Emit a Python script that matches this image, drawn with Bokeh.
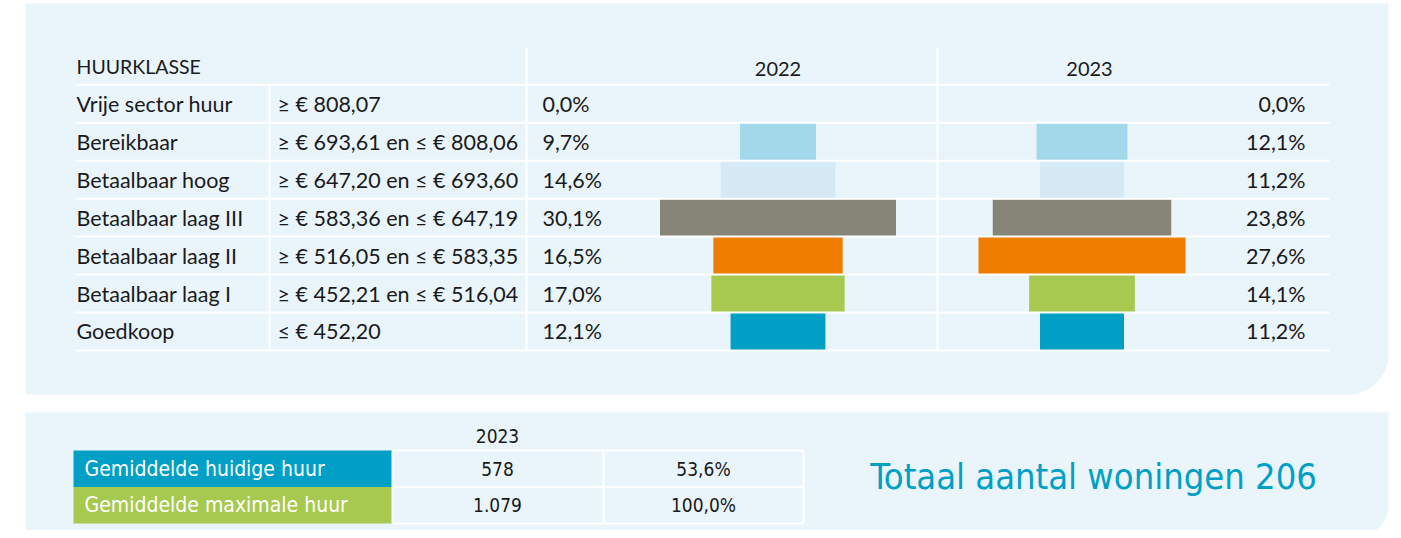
import numpy as np
from bokeh.plotting import figure
from bokeh.models import Range1d, ColumnDataSource
from bokeh.embed import file_html
from bokeh.resources import INLINE
from bokeh.core.properties import value

# ---------------- data ----------------
classes = ["Vrije sector huur", "Bereikbaar", "Betaalbaar hoog", "Betaalbaar laag III",
           "Betaalbaar laag II", "Betaalbaar laag I", "Goedkoop"]
bounds = ["≥ € 808,07", "≥ € 693,61 en ≤ € 808,06", "≥ € 647,20 en ≤ € 693,60",
          "≥ € 583,36 en ≤ € 647,19", "≥ € 516,05 en ≤ € 583,35",
          "≥ € 452,21 en ≤ € 516,04", "≤ € 452,20"]
pct_2022 = [0.0, 9.7, 14.6, 30.1, 16.5, 17.0, 12.1]
pct_2023 = [0.0, 12.1, 11.2, 23.8, 27.6, 14.1, 11.2]
years = ["2022", "2023"]
class_colors = ["#a3d8ea", "#a3d8ea", "#d5eaf5", "#878578", "#ef7d00", "#a8c94f", "#00a0c6"]

summary_labels = ["Gemiddelde huidige huur", "Gemiddelde maximale huur"]
summary_values = [578, 1079]
summary_pct = [53.6, 100.0]
summary_colors = ["#00a0c6", "#a8c94f"]
summary_year = "2023"
total_homes = 206

# ---------------- helpers ----------------
def fmt_pct(v):
    return f"{v:.1f}".replace(".", ",") + "%"

def fmt_int(v):
    return f"{v:,}".replace(",", ".")

PANEL = "#e9f4fb"
TXT = "#1a1a1a"
FONT = value("Lato")
NARROW = value("Liberation Sans Narrow, DejaVu Sans Condensed, sans-serif")

W, H = 1393, 530
X0, Y0 = 0, 0
p = figure(width=W, height=H, x_range=Range1d(X0, X0 + W), y_range=Range1d(Y0 + H, Y0),
           output_backend="svg", toolbar_location=None, min_border=0,
           x_axis_location=None, y_axis_location=None)
p.grid.visible = False
p.outline_line_color = None
p.background_fill_color = "white"
p.border_fill_color = "white"

def rounded_panel(x0, y0, x1, y1, r):
    t = np.linspace(0, np.pi / 2, 24)
    xs = [x0, x1] + list(x1 - r + r * np.cos(t)) + [x0]
    ys = [y0, y0] + list(y1 - r + r * np.sin(t)) + [y1]
    return xs, ys

xs1, ys1 = rounded_panel(25, 3, 1388, 394, 40)
xs2, ys2 = rounded_panel(25, 412, 1388, 538, 34)
p.patches([xs1, xs2], [ys1, ys2], fill_color=PANEL, line_color=None)

# ---------------- top table ----------------
ROW_TOP, PITCH = 84.3, 37.95
n = len(classes)
row_y = [ROW_TOP + PITCH * (i + 0.5) for i in range(n)]
lines_y = [ROW_TOP + PITCH * i for i in range(n + 1)]

# bars via per-year scales
c22, s22 = 777.5, 7.84
c23, s23 = 1081.5, 7.5
p.extra_x_ranges = {
    "y22": Range1d((X0 - c22) / s22, (X0 + W - c22) / s22),
    "y23": Range1d((X0 - c23) / s23, (X0 + W - c23) / s23),
}
src = ColumnDataSource(dict(
    y=row_y,
    l22=[-v / 2 for v in pct_2022], r22=[v / 2 for v in pct_2022],
    l23=[-v / 2 for v in pct_2023], r23=[v / 2 for v in pct_2023],
    color=class_colors,
    cls=classes, bnd=bounds,
    t22=[fmt_pct(v) for v in pct_2022], t23=[fmt_pct(v) for v in pct_2023],
))
p.hbar(y="y", left="l22", right="r22", height=PITCH - 1, fill_color="color",
       line_color=None, source=src, x_range_name="y22")
p.hbar(y="y", left="l23", right="r23", height=PITCH - 1, fill_color="color",
       line_color=None, source=src, x_range_name="y23")

# grid lines
p.segment(x0=[75] * len(lines_y), x1=[1329] * len(lines_y), y0=lines_y, y1=lines_y,
          line_color="white", line_width=2)
p.segment(x0=[269, 526, 937], x1=[269, 526, 937], y0=[lines_y[0], 47, 47],
          y1=[lines_y[-1]] * 3, line_color="white", line_width=2)

# texts
p.text(x=76, y=66, text=["HUURKLASSE"], text_font=FONT, text_font_size="19.5px",
       text_baseline="middle", text_color=TXT)
p.text(x=[c22, 1089], y=[68, 68], text=years, text_font=FONT, text_font_size="20px",
       text_baseline="middle", text_align="center", text_color=TXT)
p.text(x=76, y="y", text="cls", source=src, text_font=FONT, text_font_size="21.5px",
       text_baseline="middle", text_color=TXT)
p.text(x=277, y="y", text="bnd", source=src, text_font=FONT, text_font_size="21.5px",
       text_baseline="middle", text_color=TXT)
p.text(x=542, y="y", text="t22", source=src, text_font=FONT, text_font_size="21.5px",
       text_baseline="middle", text_color=TXT)
p.text(x=1305, y="y", text="t23", source=src, text_font=FONT, text_font_size="21.5px",
       text_baseline="middle", text_align="right", text_color=TXT)

# ---------------- bottom summary ----------------
S_TOP, S_PITCH = 450, 36.5
s_top = [S_TOP + S_PITCH * i for i in range(len(summary_labels))]
s_bot = [t + S_PITCH for t in s_top]
s_mid = [t + S_PITCH / 2 for t in s_top]
p.quad(left=73, right=392, top=s_top, bottom=s_bot, fill_color=summary_colors, line_color=None)
hl = [S_TOP + S_PITCH * i for i in range(len(summary_labels) + 1)]
p.segment(x0=[392] * len(hl), x1=[803] * len(hl), y0=hl, y1=hl, line_color="white", line_width=2)
p.segment(x0=[392, 603, 803], x1=[392, 603, 803], y0=[hl[0]] * 3, y1=[hl[-1]] * 3,
          line_color="white", line_width=2)

p.text(x=497, y=435, text=[summary_year], text_font=NARROW, text_font_size="19px",
       text_baseline="middle", text_align="center", text_color=TXT)
p.text(x=[84] * len(summary_labels), y=s_mid, text=summary_labels, text_font=NARROW,
       text_font_size="21px", text_baseline="middle", text_color="white")
p.text(x=[497] * len(summary_values), y=s_mid, text=[fmt_int(v) for v in summary_values],
       text_font=NARROW, text_font_size="19px", text_baseline="middle", text_align="center",
       text_color=TXT)
p.text(x=[703] * len(summary_pct), y=s_mid, text=[fmt_pct(v) for v in summary_pct],
       text_font=NARROW, text_font_size="19px", text_baseline="middle", text_align="center",
       text_color=TXT)
p.text(x=1093, y=476, text=[f"Totaal aantal woningen {total_homes}"], text_font=NARROW,
       text_font_size="36px", text_baseline="middle", text_align="center", text_color="#00a0c6")

open("out.html", "w").write(file_html(p, INLINE))
